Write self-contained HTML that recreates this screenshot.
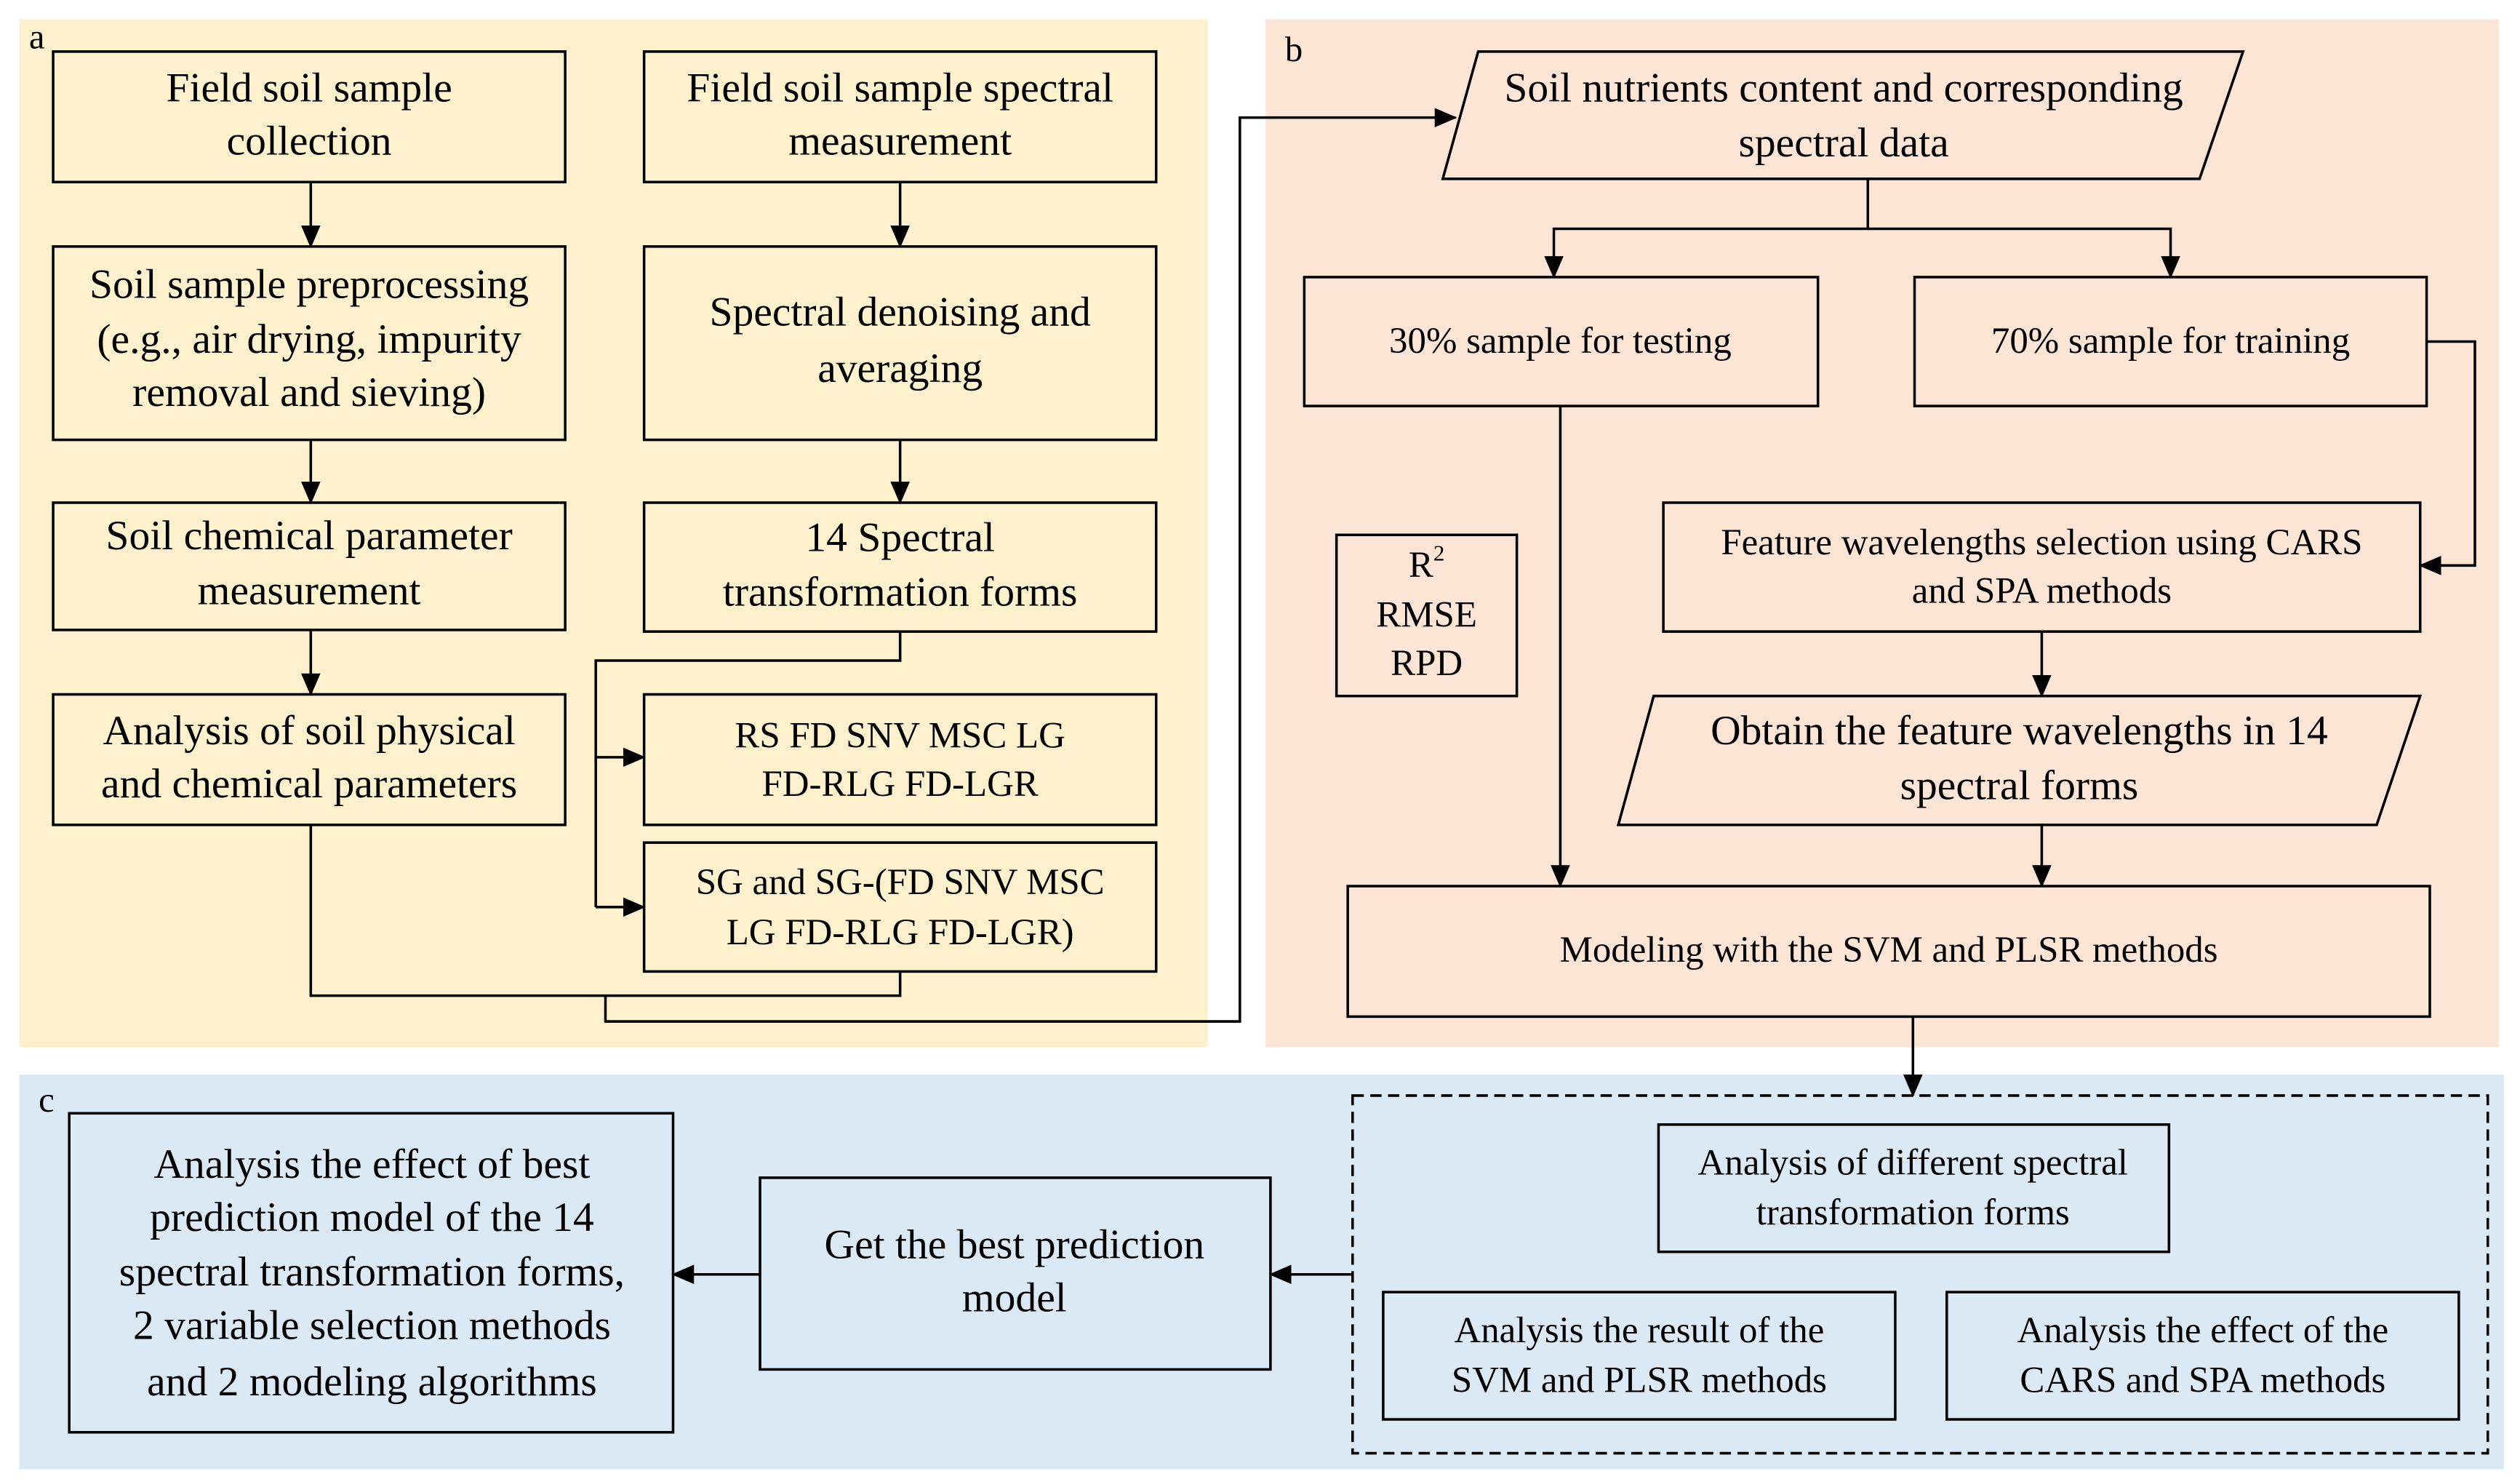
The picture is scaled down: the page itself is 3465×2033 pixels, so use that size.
<!DOCTYPE html>
<html><head><meta charset="utf-8"><style>html,body{margin:0;padding:0;background:#fff}svg{display:block}text{font-family:"Liberation Serif",serif;fill:#000}</style></head>
<body>
<svg width="3465" height="2033" viewBox="0 0 1565 918" preserveAspectRatio="none" xmlns="http://www.w3.org/2000/svg">
<defs><marker id="ar2" markerWidth="14" markerHeight="12" refX="13" refY="6" orient="auto" markerUnits="userSpaceOnUse" viewBox="0 0 14 12"><path d="M0,0 L14,6 L0,12 z" fill="#000"/></marker></defs>
<rect x="0" y="0" width="1565" height="918" fill="#fff"/>
<rect x="12" y="12" width="738" height="638" fill="#fdf0cc"/>
<rect x="786" y="12" width="766" height="638" fill="#fde5d6"/>
<rect x="12" y="667" width="1543" height="245" fill="#dbe9f5"/>
<g stroke="#000" stroke-width="1.6" fill="none">
<rect x="33" y="32" width="318" height="81"/>
<rect x="400" y="32" width="318" height="81"/>
<rect x="33" y="153" width="318" height="120"/>
<rect x="400" y="153" width="318" height="120"/>
<rect x="33" y="312" width="318" height="79"/>
<rect x="400" y="312" width="318" height="80"/>
<rect x="33" y="431" width="318" height="81"/>
<rect x="400" y="431" width="318" height="81"/>
<rect x="400" y="523" width="318" height="80"/>
<polygon points="918,32 1393,32 1366,111 896,111"/>
<rect x="810" y="172" width="319" height="80"/>
<rect x="1189" y="172" width="318" height="80"/>
<rect x="1033" y="312" width="470" height="80"/>
<rect x="830" y="332" width="112" height="100"/>
<polygon points="1027,432 1503,432 1476,512 1005,512"/>
<rect x="837" y="550" width="672" height="81"/>
<rect x="840" y="680" width="705" height="222" stroke-dasharray="7,4"/>
<rect x="1030" y="698" width="317" height="79"/>
<rect x="859" y="802" width="318" height="79"/>
<rect x="1209" y="802" width="318" height="79"/>
<rect x="472" y="731" width="317" height="119"/>
<rect x="43" y="691" width="375" height="198"/>
<line x1="370" y1="470" x2="370" y2="563"/>
<polyline points="193,512 193,618 559,618 559,603"/>
</g>
<g stroke="#000" stroke-width="1.6" fill="none" marker-end="url(#ar2)">
<line x1="193" y1="113" x2="193" y2="153"/>
<line x1="193" y1="273" x2="193" y2="312"/>
<line x1="193" y1="391" x2="193" y2="431"/>
<line x1="559" y1="113" x2="559" y2="153"/>
<line x1="559" y1="273" x2="559" y2="312"/>
<polyline points="559,392 559,410 370,410 370,470 400,470"/>
<line x1="370" y1="563" x2="400" y2="563"/>
<polyline points="376,618 376,634 770,634 770,73 904,73"/>
<polyline points="1160,111 1160,142 965,142 965,172"/>
<polyline points="1160,142 1348,142 1348,172"/>
<polyline points="1507,212 1537,212 1537,351 1503,351"/>
<line x1="1268" y1="392" x2="1268" y2="432"/>
<line x1="1268" y1="512" x2="1268" y2="550"/>
<line x1="969" y1="252" x2="969" y2="550"/>
<line x1="1188" y1="631" x2="1188" y2="680"/>
<line x1="840" y1="791" x2="789" y2="791"/>
<line x1="472" y1="791" x2="418" y2="791"/>
</g>
<g font-size="22"><text x="18" y="30">a</text><text x="798" y="38">b</text><text x="24" y="690">c</text></g>
<g font-size="26" text-anchor="middle">
<text x="192" y="63">Field soil sample</text><text x="192" y="96">collection</text>
<text x="559" y="63">Field soil sample spectral</text><text x="559" y="96">measurement</text>
<text x="192" y="185">Soil sample preprocessing</text><text x="192" y="219">(e.g., air drying,  impurity</text><text x="192" y="252">removal and sieving)</text>
<text x="559" y="202">Spectral denoising and</text><text x="559" y="237">averaging</text>
<text x="192" y="341">Soil chemical parameter</text><text x="192" y="375">measurement</text>
<text x="559" y="342">14 Spectral</text><text x="559" y="376">transformation forms</text>
<text x="192" y="462">Analysis of soil physical</text><text x="192" y="495">and chemical parameters</text>
<text x="1145" y="63">Soil nutrients content and corresponding</text><text x="1145" y="97">spectral data</text>
<text x="1254" y="462">Obtain the feature wavelengths in 14</text><text x="1254" y="496">spectral forms</text>
<text x="630" y="781">Get the best prediction</text><text x="630" y="814">model</text>
<text x="231" y="731">Analysis the effect of best</text><text x="231" y="764">prediction model of the 14</text><text x="231" y="798">spectral transformation forms,</text><text x="231" y="831">2 variable selection methods</text><text x="231" y="866">and 2 modeling algorithms</text>
</g>
<g font-size="23" text-anchor="middle">
<text x="559" y="464">RS  FD  SNV  MSC  LG</text><text x="559" y="494">FD-RLG  FD-LGR</text>
<text x="559" y="555">SG and SG-(FD  SNV  MSC</text><text x="559" y="586">LG  FD-RLG  FD-LGR)</text>
<text x="969" y="219">30%  sample for testing</text>
<text x="1348" y="219">70% sample for training</text>
<text x="1268" y="344">Feature wavelengths selection using CARS</text><text x="1268" y="374">and SPA methods</text>
<text x="886" y="358">R<tspan font-size="14" dy="-10">2</tspan></text><text x="886" y="389">RMSE</text><text x="886" y="419">RPD</text>
<text x="1173" y="597">Modeling with the SVM and PLSR methods</text>
<text x="1188" y="729">Analysis of different spectral</text><text x="1188" y="760">transformation forms</text>
<text x="1018" y="833">Analysis the result of the</text><text x="1018" y="864">SVM and PLSR methods</text>
<text x="1368" y="833">Analysis the effect of the</text><text x="1368" y="864">CARS and SPA methods</text>
</g>
</svg>
</body></html>
